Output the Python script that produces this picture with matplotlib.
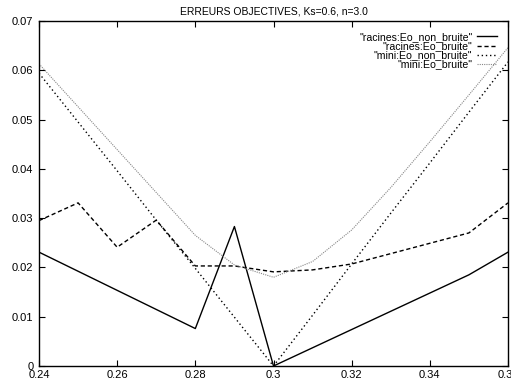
import matplotlib
matplotlib.use("Agg")
import matplotlib.pyplot as plt
from matplotlib.ticker import FormatStrFormatter

plt.rcParams['font.family'] = ['Liberation Sans', 'DejaVu Sans']

# racines:Eo_non_bruite
x_rac_nb = [0.24, 0.28, 0.29, 0.30, 0.35, 0.36]
y_rac_nb = [0.0231, 0.0076, 0.0283, 0.0, 0.0185, 0.0231]

# racines:Eo_bruite
x_rac_b = [0.24, 0.25, 0.26, 0.27, 0.28, 0.29, 0.30, 0.31, 0.32, 0.35, 0.36]
y_rac_b = [0.0295, 0.0331, 0.0241, 0.0296, 0.0203, 0.0203, 0.0191, 0.0195, 0.0207, 0.0270, 0.0331]

# mini:Eo_non_bruite
x_mini_nb = [0.24, 0.25, 0.26, 0.27, 0.28, 0.29, 0.30, 0.31, 0.32, 0.33, 0.34, 0.35, 0.36]
y_mini_nb = [0.0594, 0.0495, 0.0396, 0.0296, 0.0198, 0.0099, 0.0, 0.0103, 0.0207, 0.0310, 0.0412, 0.0515, 0.0617]

# mini:Eo_bruite
x_mini_b = [0.24, 0.25, 0.26, 0.27, 0.28, 0.29, 0.30, 0.31, 0.32, 0.33, 0.34, 0.35, 0.36]
y_mini_b = [0.0613, 0.0526, 0.0439, 0.0352, 0.0265, 0.0205, 0.0180, 0.0212, 0.0276, 0.0362, 0.0455, 0.0550, 0.0646]

fig = plt.figure(figsize=(5.11, 3.85), dpi=100)
ax = fig.add_axes([39/511, 19/385, 469/511, 345/385])

ax.plot(x_rac_nb, y_rac_nb, color='black', lw=1.0, label='"racines:Eo_non_bruite"')
ax.plot(x_rac_b, y_rac_b, color='black', lw=1.0, ls=(0, (3, 2)), label='"racines:Eo_bruite"')
ax.plot(x_mini_nb, y_mini_nb, color='black', lw=1.0, ls=(0, (1, 2)), label='"mini:Eo_non_bruite"')
ax.plot(x_mini_b, y_mini_b, color='#888888', lw=0.8, ls=(0, (1, 1)), label='"mini:Eo_bruite"')

ax.set_xlim(0.24, 0.36)
ax.set_ylim(0, 0.07)
ax.set_xticks([0.24, 0.26, 0.28, 0.30, 0.32, 0.34, 0.36])
ax.set_yticks([0, 0.01, 0.02, 0.03, 0.04, 0.05, 0.06, 0.07])
ax.xaxis.set_major_formatter(FormatStrFormatter('%g'))
ax.yaxis.set_major_formatter(FormatStrFormatter('%g'))
ax.tick_params(direction='in', top=True, right=True, labelsize=8, length=4, width=0.8)
ax.tick_params(axis='x', pad=3)
ax.tick_params(axis='y', pad=4)
for s in ax.spines.values():
    s.set_linewidth(1.0)

ax.set_title('ERREURS OBJECTIVES, Ks=0.6, n=3.0', fontsize=7.5, pad=5)

ax.legend(loc='upper right', frameon=False, markerfirst=False, fontsize=7.6,
          labelspacing=-0.08, handlelength=1.9, handletextpad=0.4,
          borderaxespad=0.0, bbox_to_anchor=(0.985, 0.98))

fig.savefig('out.png', dpi=100)
